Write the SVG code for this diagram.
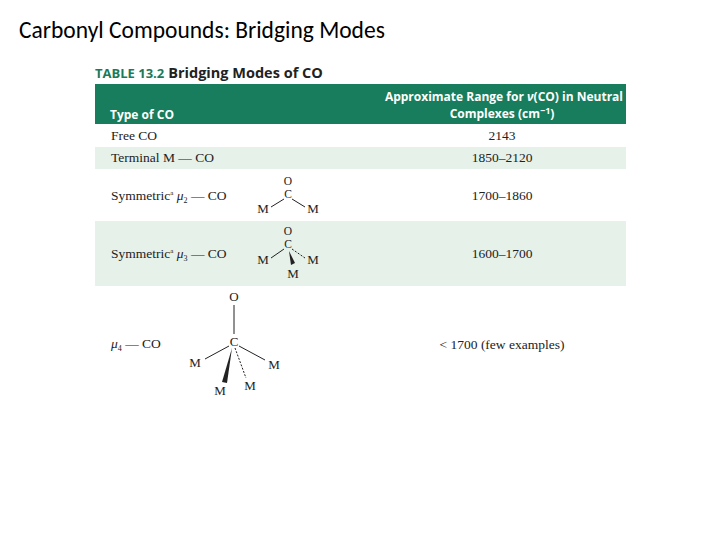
<svg xmlns="http://www.w3.org/2000/svg" width="720" height="540" viewBox="0 0 720 540">
<style>
.t{font-family:"Liberation Serif",serif;font-size:13.5px;fill:#222}
.a{font-family:"Liberation Serif",serif;font-size:13.5px;fill:#222;text-anchor:middle}
.m{font-family:"Liberation Serif",serif;font-size:13px;fill:#222;text-anchor:middle}
.s{font-family:"Liberation Serif",serif;font-size:11.5px;fill:#222;text-anchor:middle}
.h{font-family:"Open Sans","DejaVu Sans",sans-serif;font-size:12px;font-weight:bold;fill:#fff}
.b{stroke:#222;stroke-width:1;fill:none}
.d{stroke:#222;stroke-width:1;fill:none;stroke-dasharray:2,1.5}
</style>
<rect width="720" height="540" fill="#fff"/>
<text x="19" y="38" font-family="Carlito,Calibri,'Liberation Sans',sans-serif" font-size="23.5" fill="#000">Carbonyl Compounds: Bridging Modes</text>
<text x="95" y="78" font-family="'Open Sans','DejaVu Sans',sans-serif" font-size="14.5" font-weight="bold"><tspan fill="#1a7a5a" font-size="13">TABLE 13.2</tspan><tspan fill="#222" dx="4">Bridging Modes of CO</tspan></text>
<rect x="95" y="84" width="531" height="40" fill="#177d5c"/>
<text class="h" x="110" y="119">Type of CO</text>
<text class="h" x="623" y="101" text-anchor="end">Approximate Range for <tspan font-style="italic">ν</tspan>(CO) in Neutral</text>
<text class="h" x="502" y="118" text-anchor="middle">Complexes (cm<tspan dy="-4" font-size="9">−1</tspan><tspan dy="4">)</tspan></text>
<rect x="95" y="147" width="531" height="22" fill="#e6f1ea"/>
<rect x="95" y="221" width="531" height="65" fill="#e6f1ea"/>
<g id="r1"><text class="t" x="111" y="140">Free CO</text><text class="a" x="502" y="140">2143</text></g>
<g id="r2"><text class="t" x="111" y="162">Terminal M — CO</text><text class="a" x="502" y="162">1850–2120</text></g>
<g id="r3"><text class="t" x="111" y="200">Symmetric<tspan font-size="7" dy="-5">a</tspan><tspan dy="5" font-style="italic"> μ</tspan><tspan font-size="8" dy="3">2</tspan><tspan dy="-3"> — CO</tspan></text>
<text class="a" x="502" y="200">1700–1860</text>
<text class="s" x="288" y="185">O</text><text class="s" x="288" y="198">C</text>
<text class="m" x="263" y="213">M</text><text class="m" x="313" y="213">M</text>
<path class="b" d="M284 199L271 207M292 199L305 207"/></g>
<g id="r4"><text class="t" x="111" y="258">Symmetric<tspan font-size="7" dy="-5">a</tspan><tspan dy="5" font-style="italic"> μ</tspan><tspan font-size="8" dy="3">3</tspan><tspan dy="-3"> — CO</tspan></text>
<text class="a" x="502" y="258">1600–1700</text>
<text class="s" x="288" y="235">O</text><text class="s" x="288" y="248">C</text>
<text class="m" x="263" y="264">M</text><text class="m" x="313" y="264">M</text><text class="m" x="293" y="278">M</text>
<path class="b" d="M284 249L271 258"/><path class="d" d="M292 249L305 258"/>
<path d="M289 251L295 263L291 265Z" fill="#222"/></g>
<g id="r5"><text class="t" x="111" y="348"><tspan font-style="italic">μ</tspan><tspan font-size="8" dy="3">4</tspan><tspan dy="-3"> — CO</tspan></text>
<text class="a" x="502" y="349">&lt; 1700 (few examples)</text>
<text class="m" x="234" y="301">O</text><path class="b" d="M234 305V334"/>
<text class="m" x="234" y="346">C</text>
<text class="m" x="195" y="367">M</text><text class="m" x="274" y="369">M</text>
<text class="m" x="220" y="395">M</text><text class="m" x="250" y="390">M</text>
<path class="b" d="M229 346L205 359M239 346L265 360"/>
<path class="d" d="M235 348L246 378"/>
<path d="M232 348L222 382L227 383Z" fill="#222"/></g>
</svg>
